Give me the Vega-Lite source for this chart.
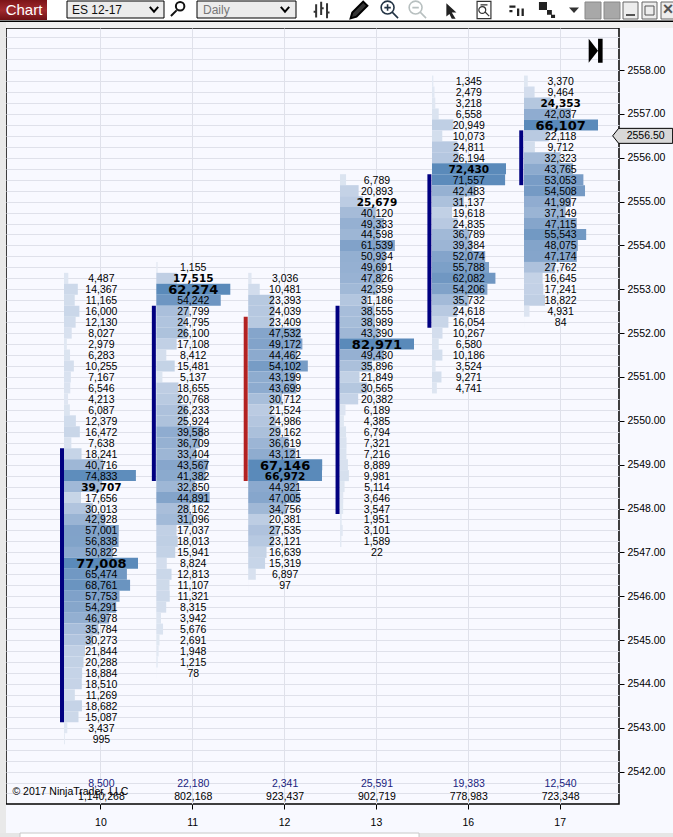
{
  "$schema": "https://vega.github.io/schema/vega-lite/v6.json",
  "autosize": {"type": "none"},
  "padding": {"left": 6, "top": 28, "right": 54, "bottom": 33},
  "width": 613,
  "height": 776,
  "background": "#f8f9ff",
  "config": {"view": {"stroke": "#000", "strokeWidth": 1.5}, "text": {"font": "Liberation Sans"}},
  "datasets": {
    "sessions": [
      {"day": 10, "open": 2549.375, "close": 2543.125, "dir": "up", "delta": 8500, "total": 1140268},
      {"day": 11, "open": 2552.625, "close": 2548.625, "dir": "up", "delta": 22180, "total": 802168},
      {"day": 12, "open": 2552.375, "close": 2548.625, "dir": "down", "delta": 2341, "total": 923437},
      {"day": 13, "open": 2552.625, "close": 2547.875, "dir": "up", "delta": 25591, "total": 902719},
      {"day": 16, "open": 2555.625, "close": 2552.125, "dir": "up", "delta": 19383, "total": 778983},
      {"day": 17, "open": 2556.625, "close": 2555.375, "dir": "up", "delta": 12540, "total": 723348}
    ],
    "rows": [
      {"day":10,"price":2553.25,"volume":4487},{"day":10,"price":2553,"volume":14367},{"day":10,"price":2552.75,"volume":11165},{"day":10,"price":2552.5,"volume":16000},{"day":10,"price":2552.25,"volume":12130},{"day":10,"price":2552,"volume":8027},{"day":10,"price":2551.75,"volume":2979},{"day":10,"price":2551.5,"volume":6283},{"day":10,"price":2551.25,"volume":10255},{"day":10,"price":2551,"volume":7167},{"day":10,"price":2550.75,"volume":6546},{"day":10,"price":2550.5,"volume":4213},{"day":10,"price":2550.25,"volume":6087},{"day":10,"price":2550,"volume":12379},{"day":10,"price":2549.75,"volume":16472},{"day":10,"price":2549.5,"volume":7638},{"day":10,"price":2549.25,"volume":18241},{"day":10,"price":2549,"volume":40716},{"day":10,"price":2548.75,"volume":74833},{"day":10,"price":2548.5,"volume":39707,"tier":"b"},{"day":10,"price":2548.25,"volume":17656},{"day":10,"price":2548,"volume":30013},{"day":10,"price":2547.75,"volume":42928},{"day":10,"price":2547.5,"volume":57001},{"day":10,"price":2547.25,"volume":56838},{"day":10,"price":2547,"volume":50822},{"day":10,"price":2546.75,"volume":77008,"tier":"m"},{"day":10,"price":2546.5,"volume":65474},{"day":10,"price":2546.25,"volume":68761},{"day":10,"price":2546,"volume":57753},{"day":10,"price":2545.75,"volume":54291},{"day":10,"price":2545.5,"volume":46978},{"day":10,"price":2545.25,"volume":35784},{"day":10,"price":2545,"volume":30273},{"day":10,"price":2544.75,"volume":21844},{"day":10,"price":2544.5,"volume":20288},{"day":10,"price":2544.25,"volume":18884},{"day":10,"price":2544,"volume":18510},{"day":10,"price":2543.75,"volume":11269},{"day":10,"price":2543.5,"volume":18682},{"day":10,"price":2543.25,"volume":15087},{"day":10,"price":2543,"volume":3437},{"day":10,"price":2542.75,"volume":995},
      {"day":11,"price":2553.5,"volume":1155},{"day":11,"price":2553.25,"volume":17515,"tier":"b"},{"day":11,"price":2553,"volume":62274,"tier":"m"},{"day":11,"price":2552.75,"volume":54242},{"day":11,"price":2552.5,"volume":27799},{"day":11,"price":2552.25,"volume":24795},{"day":11,"price":2552,"volume":26100},{"day":11,"price":2551.75,"volume":17108},{"day":11,"price":2551.5,"volume":8412},{"day":11,"price":2551.25,"volume":15481},{"day":11,"price":2551,"volume":5137},{"day":11,"price":2550.75,"volume":18655},{"day":11,"price":2550.5,"volume":20768},{"day":11,"price":2550.25,"volume":26233},{"day":11,"price":2550,"volume":25924},{"day":11,"price":2549.75,"volume":39588},{"day":11,"price":2549.5,"volume":36709},{"day":11,"price":2549.25,"volume":33404},{"day":11,"price":2549,"volume":43567},{"day":11,"price":2548.75,"volume":41382},{"day":11,"price":2548.5,"volume":32850},{"day":11,"price":2548.25,"volume":44891},{"day":11,"price":2548,"volume":28162},{"day":11,"price":2547.75,"volume":31096},{"day":11,"price":2547.5,"volume":17037},{"day":11,"price":2547.25,"volume":18013},{"day":11,"price":2547,"volume":15941},{"day":11,"price":2546.75,"volume":8824},{"day":11,"price":2546.5,"volume":12813},{"day":11,"price":2546.25,"volume":11107},{"day":11,"price":2546,"volume":11321},{"day":11,"price":2545.75,"volume":8315},{"day":11,"price":2545.5,"volume":3942},{"day":11,"price":2545.25,"volume":5676},{"day":11,"price":2545,"volume":2691},{"day":11,"price":2544.75,"volume":1948},{"day":11,"price":2544.5,"volume":1215},{"day":11,"price":2544.25,"volume":78},
      {"day":12,"price":2553.25,"volume":3036},{"day":12,"price":2553,"volume":10481},{"day":12,"price":2552.75,"volume":23393},{"day":12,"price":2552.5,"volume":24039},{"day":12,"price":2552.25,"volume":23409},{"day":12,"price":2552,"volume":47532},{"day":12,"price":2551.75,"volume":49172},{"day":12,"price":2551.5,"volume":44462},{"day":12,"price":2551.25,"volume":54102},{"day":12,"price":2551,"volume":43199},{"day":12,"price":2550.75,"volume":43699},{"day":12,"price":2550.5,"volume":30712},{"day":12,"price":2550.25,"volume":21524},{"day":12,"price":2550,"volume":24986},{"day":12,"price":2549.75,"volume":29162},{"day":12,"price":2549.5,"volume":36619},{"day":12,"price":2549.25,"volume":43121},{"day":12,"price":2549,"volume":67146,"tier":"m"},{"day":12,"price":2548.75,"volume":66972,"tier":"b"},{"day":12,"price":2548.5,"volume":44921},{"day":12,"price":2548.25,"volume":47005},{"day":12,"price":2548,"volume":34756},{"day":12,"price":2547.75,"volume":20381},{"day":12,"price":2547.5,"volume":27535},{"day":12,"price":2547.25,"volume":23121},{"day":12,"price":2547,"volume":16639},{"day":12,"price":2546.75,"volume":15319},{"day":12,"price":2546.5,"volume":6897},{"day":12,"price":2546.25,"volume":97},
      {"day":13,"price":2555.5,"volume":6789},{"day":13,"price":2555.25,"volume":20893},{"day":13,"price":2555,"volume":25679,"tier":"b"},{"day":13,"price":2554.75,"volume":40120},{"day":13,"price":2554.5,"volume":49333},{"day":13,"price":2554.25,"volume":44598},{"day":13,"price":2554,"volume":61539},{"day":13,"price":2553.75,"volume":50934},{"day":13,"price":2553.5,"volume":49691},{"day":13,"price":2553.25,"volume":47826},{"day":13,"price":2553,"volume":42359},{"day":13,"price":2552.75,"volume":31186},{"day":13,"price":2552.5,"volume":38555},{"day":13,"price":2552.25,"volume":38989},{"day":13,"price":2552,"volume":43390},{"day":13,"price":2551.75,"volume":82971,"tier":"m"},{"day":13,"price":2551.5,"volume":49430},{"day":13,"price":2551.25,"volume":35896},{"day":13,"price":2551,"volume":21849},{"day":13,"price":2550.75,"volume":30565},{"day":13,"price":2550.5,"volume":20382},{"day":13,"price":2550.25,"volume":6189},{"day":13,"price":2550,"volume":4385},{"day":13,"price":2549.75,"volume":6794},{"day":13,"price":2549.5,"volume":7321},{"day":13,"price":2549.25,"volume":7216},{"day":13,"price":2549,"volume":8889},{"day":13,"price":2548.75,"volume":9981},{"day":13,"price":2548.5,"volume":5114},{"day":13,"price":2548.25,"volume":3646},{"day":13,"price":2548,"volume":3547},{"day":13,"price":2547.75,"volume":1951},{"day":13,"price":2547.5,"volume":3101},{"day":13,"price":2547.25,"volume":1589},{"day":13,"price":2547,"volume":22},
      {"day":16,"price":2557.75,"volume":1345},{"day":16,"price":2557.5,"volume":2479},{"day":16,"price":2557.25,"volume":3218},{"day":16,"price":2557,"volume":6558},{"day":16,"price":2556.75,"volume":20949},{"day":16,"price":2556.5,"volume":10073},{"day":16,"price":2556.25,"volume":24811},{"day":16,"price":2556,"volume":26194},{"day":16,"price":2555.75,"volume":72430,"tier":"b"},{"day":16,"price":2555.5,"volume":71557},{"day":16,"price":2555.25,"volume":42483},{"day":16,"price":2555,"volume":31137},{"day":16,"price":2554.75,"volume":19618},{"day":16,"price":2554.5,"volume":24835},{"day":16,"price":2554.25,"volume":36789},{"day":16,"price":2554,"volume":39384},{"day":16,"price":2553.75,"volume":52074},{"day":16,"price":2553.5,"volume":55788},{"day":16,"price":2553.25,"volume":62082},{"day":16,"price":2553,"volume":54206},{"day":16,"price":2552.75,"volume":35732},{"day":16,"price":2552.5,"volume":24618},{"day":16,"price":2552.25,"volume":16054},{"day":16,"price":2552,"volume":10267},{"day":16,"price":2551.75,"volume":6580},{"day":16,"price":2551.5,"volume":10186},{"day":16,"price":2551.25,"volume":3524},{"day":16,"price":2551,"volume":9271},{"day":16,"price":2550.75,"volume":4741},
      {"day":17,"price":2557.75,"volume":3370},{"day":17,"price":2557.5,"volume":9464},{"day":17,"price":2557.25,"volume":24353,"tier":"b"},{"day":17,"price":2557,"volume":42037},{"day":17,"price":2556.75,"volume":66107,"tier":"m"},{"day":17,"price":2556.5,"volume":22118},{"day":17,"price":2556.25,"volume":9712},{"day":17,"price":2556,"volume":32323},{"day":17,"price":2555.75,"volume":43765},{"day":17,"price":2555.5,"volume":53053},{"day":17,"price":2555.25,"volume":54508},{"day":17,"price":2555,"volume":41997},{"day":17,"price":2554.75,"volume":37149},{"day":17,"price":2554.5,"volume":47115},{"day":17,"price":2554.25,"volume":55543},{"day":17,"price":2554,"volume":48075},{"day":17,"price":2553.75,"volume":47174},{"day":17,"price":2553.5,"volume":27762},{"day":17,"price":2553.25,"volume":16645},{"day":17,"price":2553,"volume":17241},{"day":17,"price":2552.75,"volume":18822},{"day":17,"price":2552.5,"volume":4931},{"day":17,"price":2552.25,"volume":84}
    ]
  },
  "layer": [
    {
      "data": {"values": [{}]},
      "encoding": {
        "x": {"datum": 0, "scale": {"domain": [6, 619]}, "axis": null},
        "y": {"datum": 0, "scale": {"domain": [804, 28]}, "axis": null}
      },
      "layer": [
        {"mark": {"type": "rect", "fill": "#ffffff"}, "encoding": {"x": {"datum": 0}, "x2": {"datum": 673}, "y": {"datum": 0}, "y2": {"datum": 21}}},
        {"mark": {"type": "rect", "fill": "#f0f0f0"}, "encoding": {"x": {"datum": 0}, "x2": {"datum": 673}, "y": {"datum": 21}, "y2": {"datum": 28}}},
        {"mark": {"type": "rect", "fill": "#e9e9e9"}, "encoding": {"x": {"datum": 0}, "x2": {"datum": 6}, "y": {"datum": 21}, "y2": {"datum": 837}}},
        {"mark": {"type": "rect", "fill": "#e6e6e6"}, "encoding": {"x": {"datum": 0}, "x2": {"datum": 673}, "y": {"datum": 833}, "y2": {"datum": 837}}},
        {"mark": {"type": "rect", "fill": "#ffffff", "stroke": "#c8c8c8"}, "encoding": {"x": {"datum": 20}, "x2": {"datum": 419}, "y": {"datum": 833}, "y2": {"datum": 838}}},
        {"mark": {"type": "rect", "fill": "#000000"}, "encoding": {"x": {"datum": 0}, "x2": {"datum": 673}, "y": {"datum": 20.5}, "y2": {"datum": 22}}},
        {"mark": {"type": "rect", "fill": {"x1": 0, "y1": 0, "x2": 0, "y2": 1, "gradient": "linear", "stops": [{"offset": 0, "color": "#7c1418"}, {"offset": 0.5, "color": "#a02a2e"}, {"offset": 1, "color": "#6e1014"}]}}, "encoding": {"x": {"datum": 0}, "x2": {"datum": 47}, "y": {"datum": 0}, "y2": {"datum": 20}}},
        {"mark": {"type": "text", "text": "Chart", "color": "#ffffff", "fontSize": 15, "align": "center"}, "encoding": {"x": {"datum": 24}, "y": {"datum": 10}}},
        {"mark": {"type": "rect", "fill": "#ececec", "stroke": "#000000"}, "encoding": {"x": {"datum": 67}, "x2": {"datum": 164}, "y": {"datum": 1}, "y2": {"datum": 18}}},
        {"mark": {"type": "text", "text": "ES 12-17", "color": "#111111", "fontSize": 12, "align": "left"}, "encoding": {"x": {"datum": 72}, "y": {"datum": 10}}},
        {"mark": {"type": "rect", "fill": "#ececec", "stroke": "#000000"}, "encoding": {"x": {"datum": 197}, "x2": {"datum": 296}, "y": {"datum": 1}, "y2": {"datum": 18}}},
        {"mark": {"type": "text", "text": "Daily", "color": "#777777", "fontSize": 12, "align": "left"}, "encoding": {"x": {"datum": 203}, "y": {"datum": 10}}},
        {"mark": {"type": "point", "shape": "M-0.8,-0.4 L0,0.5 L0.8,-0.4", "size": 110, "stroke": "#000000", "strokeWidth": 2, "filled": false, "opacity": 1}, "encoding": {"x": {"datum": 154}, "y": {"datum": 9}}},
        {"mark": {"type": "point", "shape": "M-0.8,-0.4 L0,0.5 L0.8,-0.4", "size": 110, "stroke": "#000000", "strokeWidth": 2, "filled": false, "opacity": 1}, "encoding": {"x": {"datum": 285}, "y": {"datum": 9}}},
        {"mark": {"type": "point", "shape": "M-1,1 L-0.2,0.2 M0.9,-0.4 A0.6,0.6 0 1,1 -0.3,-0.4 A0.6,0.6 0 1,1 0.9,-0.4", "size": 200, "stroke": "#111111", "strokeWidth": 2, "filled": false, "opacity": 1}, "encoding": {"x": {"datum": 178}, "y": {"datum": 9}}},
        {"mark": {"type": "point", "shape": "M-0.7,-0.7 V0.9 M-0.1,-1 V0.6 M0.6,-0.8 V1 M-1,0.2 H-0.7 M-0.1,-0.2 H0.2 M0.6,0.3 H0.9", "size": 280, "stroke": "#333333", "strokeWidth": 2, "filled": false, "opacity": 1}, "encoding": {"x": {"datum": 322}, "y": {"datum": 10}}},
        {"mark": {"type": "point", "shape": "M-1,1 L-0.8,0.3 L0.5,-1 L1,-0.5 L-0.3,0.8 Z", "size": 280, "fill": "#333333", "stroke": "#000000", "filled": true, "opacity": 1}, "encoding": {"x": {"datum": 359}, "y": {"datum": 10}}},
        {"mark": {"type": "point", "shape": "M1,1 L0.3,0.3 M0.5,-0.3 A0.8,0.8 0 1,1 -1.1,-0.3 A0.8,0.8 0 1,1 0.5,-0.3 M-0.7,-0.3 H0.1 M-0.3,-0.7 V0.1", "size": 260, "stroke": "#223344", "strokeWidth": 1.6, "filled": false, "opacity": 1}, "encoding": {"x": {"datum": 390}, "y": {"datum": 10}}},
        {"mark": {"type": "point", "shape": "M1,1 L0.3,0.3 M0.5,-0.3 A0.8,0.8 0 1,1 -1.1,-0.3 A0.8,0.8 0 1,1 0.5,-0.3 M-0.7,-0.3 H0.1", "size": 260, "stroke": "#b8c0c0", "strokeWidth": 1.6, "filled": false, "opacity": 1}, "encoding": {"x": {"datum": 418}, "y": {"datum": 10}}},
        {"mark": {"type": "point", "shape": "M-0.6,-1 L0.7,0.2 L0.1,0.2 L0.6,1 L0.1,1 L-0.2,0.4 L-0.6,0.7 Z", "size": 240, "fill": "#222222", "filled": true, "opacity": 1}, "encoding": {"x": {"datum": 451}, "y": {"datum": 11}}},
        {"mark": {"type": "point", "shape": "M-0.8,-1 H0.8 V1 H-0.8 Z M-0.4,-0.6 H0.4 M0.6,0.7 L0.1,0.2 M0.2,0 A0.4,0.4 0 1,1 -0.6,0 A0.4,0.4 0 1,1 0.2,0", "size": 300, "stroke": "#333333", "strokeWidth": 1.2, "filled": false, "opacity": 1}, "encoding": {"x": {"datum": 484}, "y": {"datum": 10}}},
        {"mark": {"type": "point", "shape": "M-1,-0.6 H-0.2 V-0.3 H-1 Z M-1,0 H-0.6 V0.3 H-1 Z M0,-0.2 H0.3 V0.8 H0 Z M0.6,-0.2 H0.9 V0.8 H0.6 Z", "size": 230, "fill": "#222222", "filled": true, "opacity": 1}, "encoding": {"x": {"datum": 517}, "y": {"datum": 10}}},
        {"mark": {"type": "point", "shape": "M-1,-1 H0 V0 H-1 Z M0,0 H0.6 V0.6 H0 Z M0.5,0.6 H1 V1 H0.5 Z", "size": 260, "fill": "#222222", "filled": true, "opacity": 1}, "encoding": {"x": {"datum": 547}, "y": {"datum": 10}}},
        {"mark": {"type": "point", "shape": "M-1,-0.5 H1 L0,0.6 Z", "size": 100, "fill": "#333333", "filled": true, "opacity": 1}, "encoding": {"x": {"datum": 574}, "y": {"datum": 10}}},
        {"mark": {"type": "rect", "fill": "#a8a8a8", "stroke": "#888888"}, "encoding": {"x": {"datum": 585}, "x2": {"datum": 601}, "y": {"datum": 2}, "y2": {"datum": 19}}},
        {"mark": {"type": "rect", "fill": "#a8a8a8", "stroke": "#888888"}, "encoding": {"x": {"datum": 604}, "x2": {"datum": 620}, "y": {"datum": 2}, "y2": {"datum": 19}}},
        {"mark": {"type": "rect", "fill": "#ededed", "stroke": "#666666"}, "encoding": {"x": {"datum": 623}, "x2": {"datum": 638}, "y": {"datum": 2}, "y2": {"datum": 19}}},
        {"mark": {"type": "rect", "fill": "#ededed", "stroke": "#666666"}, "encoding": {"x": {"datum": 642}, "x2": {"datum": 657}, "y": {"datum": 2}, "y2": {"datum": 19}}},
        {"mark": {"type": "rect", "fill": "#ededed", "stroke": "#666666"}, "encoding": {"x": {"datum": 661}, "x2": {"datum": 676}, "y": {"datum": 2}, "y2": {"datum": 19}}},
        {"mark": {"type": "rect", "fill": "#555555"}, "encoding": {"x": {"datum": 626}, "x2": {"datum": 635}, "y": {"datum": 14}, "y2": {"datum": 16}}},
        {"mark": {"type": "rect", "fill": "#ededed", "stroke": "#555555"}, "encoding": {"x": {"datum": 645}, "x2": {"datum": 654}, "y": {"datum": 6}, "y2": {"datum": 15}}},
        {"mark": {"type": "text", "text": "×", "color": "#555555", "fontSize": 18, "fontWeight": "bold", "align": "center"}, "encoding": {"x": {"datum": 668}, "y": {"datum": 10}}}
      ]
    },
    {
      "data": {"name": "sessions"},
      "mark": {"type": "rule", "opacity": 0},
      "encoding": {
        "x": {
          "field": "day", "type": "ordinal",
          "scale": {"type": "point", "domain": [10, 11, 12, 13, 16, 17], "padding": 0.837, "align": 0.614},
          "axis": {"title": null, "orient": "bottom", "grid": true, "gridColor": "#dfe1ea", "gridWidth": 1, "domain": false, "tickColor": "#000", "tickSize": 5, "labelAngle": 0, "labelPadding": 8, "labelFont": "Liberation Sans", "labelFontSize": 10.5, "labelColor": "#000"}
        }
      }
    },
    {
      "resolve": {"scale": {"x": "independent", "color": "independent"}},
      "layer": [
        {
          "data": {"name": "rows"},
          "transform": [{"filter": "datum.day == 10"}],
          "mark": {"type": "bar", "orient": "horizontal", "size": 11},
          "encoding": {
            "x": {"field": "volume", "type": "quantitative", "stack": null, "scale": {"domain": [-60358, 577562]}, "axis": null},
            "y": {"field": "price", "type": "quantitative", "scale": {"domain": [2541.26, 2558.96], "padding": 0, "nice": false}, "axis": null},
            "color": {"field": "volume", "type": "quantitative", "scale": {"domain": [0, 77008], "range": ["#e6ecf5", "#5a8aba"]}, "legend": null}
          }
        },
        {
          "data": {"name": "rows"},
          "transform": [{"filter": "datum.day == 11"}],
          "mark": {"type": "bar", "orient": "horizontal", "size": 11},
          "encoding": {
            "x": {"field": "volume", "type": "quantitative", "stack": null, "scale": {"domain": [-126483, 389380]}, "axis": null},
            "y": {"field": "price", "type": "quantitative", "scale": {"domain": [2541.26, 2558.96], "padding": 0, "nice": false}, "axis": null},
            "color": {"field": "volume", "type": "quantitative", "scale": {"domain": [0, 62274], "range": ["#e6ecf5", "#5a8aba"]}, "legend": null}
          }
        },
        {
          "data": {"name": "rows"},
          "transform": [{"filter": "datum.day == 12"}],
          "mark": {"type": "bar", "orient": "horizontal", "size": 11},
          "encoding": {
            "x": {"field": "volume", "type": "quantitative", "stack": null, "scale": {"domain": [-219767, 336456]}, "axis": null},
            "y": {"field": "price", "type": "quantitative", "scale": {"domain": [2541.26, 2558.96], "padding": 0, "nice": false}, "axis": null},
            "color": {"field": "volume", "type": "quantitative", "scale": {"domain": [0, 67146], "range": ["#e6ecf5", "#5a8aba"]}, "legend": null}
          }
        },
        {
          "data": {"name": "rows"},
          "transform": [{"filter": "datum.day == 13"}],
          "mark": {"type": "bar", "orient": "horizontal", "size": 11},
          "encoding": {
            "x": {"field": "volume", "type": "quantitative", "stack": null, "scale": {"domain": [-374491, 312823]}, "axis": null},
            "y": {"field": "price", "type": "quantitative", "scale": {"domain": [2541.26, 2558.96], "padding": 0, "nice": false}, "axis": null},
            "color": {"field": "volume", "type": "quantitative", "scale": {"domain": [0, 82971], "range": ["#e6ecf5", "#5a8aba"]}, "legend": null}
          }
        },
        {
          "data": {"name": "rows"},
          "transform": [{"filter": "datum.day == 16"}],
          "mark": {"type": "bar", "orient": "horizontal", "size": 11},
          "encoding": {
            "x": {"field": "volume", "type": "quantitative", "stack": null, "scale": {"domain": [-416960, 183032]}, "axis": null},
            "y": {"field": "price", "type": "quantitative", "scale": {"domain": [2541.26, 2558.96], "padding": 0, "nice": false}, "axis": null},
            "color": {"field": "volume", "type": "quantitative", "scale": {"domain": [0, 72430], "range": ["#e6ecf5", "#5a8aba"]}, "legend": null}
          }
        },
        {
          "data": {"name": "rows"},
          "transform": [{"filter": "datum.day == 17"}],
          "mark": {"type": "bar", "orient": "horizontal", "size": 11},
          "encoding": {
            "x": {"field": "volume", "type": "quantitative", "stack": null, "scale": {"domain": [-462750, 84867]}, "axis": null},
            "y": {"field": "price", "type": "quantitative", "scale": {"domain": [2541.26, 2558.96], "padding": 0, "nice": false}, "axis": null},
            "color": {"field": "volume", "type": "quantitative", "scale": {"domain": [0, 66107], "range": ["#e6ecf5", "#5a8aba"]}, "legend": null}
          }
        },
        {
          "layer": [
            {
              "data": {"name": "sessions"},
              "mark": {"type": "rule", "strokeWidth": 4, "xOffset": -38.4},
              "encoding": {
                "x": {
                  "field": "day", "type": "ordinal",
                  "scale": {"type": "point", "domain": [10, 11, 12, 13, 16, 17], "padding": 0.837, "align": 0.614},
                  "axis": null
                },
                "y": {
                  "field": "open", "type": "quantitative",
                  "scale": {"domain": [2541.26, 2558.96], "padding": 0, "nice": false},
                  "axis": {"orient": "left", "title": null, "grid": true, "gridColor": "#dfe1ea", "gridWidth": 1, "ticks": false, "labels": false, "domain": false, "values": [2541.5,2541.75,2542,2542.25,2542.5,2542.75,2543,2543.25,2543.5,2543.75,2544,2544.25,2544.5,2544.75,2545,2545.25,2545.5,2545.75,2546,2546.25,2546.5,2546.75,2547,2547.25,2547.5,2547.75,2548,2548.25,2548.5,2548.75,2549,2549.25,2549.5,2549.75,2550,2550.25,2550.5,2550.75,2551,2551.25,2551.5,2551.75,2552,2552.25,2552.5,2552.75,2553,2553.25,2553.5,2553.75,2554,2554.25,2554.5,2554.75,2555,2555.25,2555.5,2555.75,2556,2556.25,2556.5,2556.75,2557,2557.25,2557.5,2557.75,2558,2558.25,2558.5,2558.75]}
                },
                "y2": {"field": "close"},
                "color": {"field": "dir", "type": "nominal", "scale": {"domain": ["up", "down"], "range": ["#000080", "#b22222"]}, "legend": null}
              }
            },
            {
              "data": {"name": "rows"},
              "transform": [{"filter": "!datum.tier"}],
              "mark": {"type": "text", "fontSize": 10.5, "color": "#000", "dx": 1, "dy": 1, "font": "Liberation Sans"},
              "encoding": {
                "text": {"field": "volume", "type": "quantitative", "format": ",d"},
                "x": {"field": "day", "type": "ordinal", "axis": null},
                "y": {
                  "field": "price", "type": "quantitative",
                  "scale": {"domain": [2541.26, 2558.96], "padding": 0, "nice": false},
                  "axis": {"orient": "right", "title": null, "grid": false, "domain": false, "tickColor": "#000", "tickSize": 5, "format": ".2f", "labelFont": "Liberation Sans", "labelFontSize": 10.5, "labelColor": "#000", "labelPadding": 3, "values": [2542,2543,2544,2545,2546,2547,2548,2549,2550,2551,2552,2553,2554,2555,2556,2557,2558]}
                }
              }
            },
            {
              "data": {"name": "rows"},
              "transform": [{"filter": "datum.tier == 'b'"}],
              "mark": {"type": "text", "fontSize": 10.5, "fontWeight": "bold", "color": "#000", "dx": 1, "dy": 1, "font": "DejaVu Sans"},
              "encoding": {"text": {"field": "volume", "type": "quantitative", "format": ",d"}, "x": {"field": "day", "type": "ordinal", "axis": null}, "y": {"field": "price", "type": "quantitative", "scale": {"domain": [2541.26, 2558.96], "padding": 0, "nice": false}, "axis": null}}
            },
            {
              "data": {"name": "rows"},
              "transform": [{"filter": "datum.tier == 'm'"}],
              "mark": {"type": "text", "fontSize": 13, "fontWeight": "bold", "color": "#000", "dx": 1, "dy": 1, "font": "DejaVu Sans"},
              "encoding": {"text": {"field": "volume", "type": "quantitative", "format": ",d"}, "x": {"field": "day", "type": "ordinal", "axis": null}, "y": {"field": "price", "type": "quantitative", "scale": {"domain": [2541.26, 2558.96], "padding": 0, "nice": false}, "axis": null}}
            },
            {
              "data": {"name": "sessions"},
              "mark": {"type": "text", "fontSize": 10.5, "color": "#1a237e", "dx": 1, "dy": 1, "font": "Liberation Sans"},
              "encoding": {"text": {"field": "delta", "type": "quantitative", "format": ",d"}, "x": {"field": "day", "type": "ordinal", "axis": null}, "y": {"datum": 2541.74, "type": "quantitative", "scale": {"domain": [2541.26, 2558.96], "padding": 0, "nice": false}, "axis": null}}
            },
            {
              "data": {"name": "sessions"},
              "mark": {"type": "text", "fontSize": 10.5, "color": "#000", "dx": 1, "dy": 1, "font": "Liberation Sans"},
              "encoding": {"text": {"field": "total", "type": "quantitative", "format": ",d"}, "x": {"field": "day", "type": "ordinal", "axis": null}, "y": {"datum": 2541.44, "type": "quantitative", "scale": {"domain": [2541.26, 2558.96], "padding": 0, "nice": false}, "axis": null}}
            },
            {
              "data": {"values": [{}]},
              "mark": {"type": "text", "text": "© 2017 NinjaTrader, LLC", "fontSize": 10.5, "color": "#000", "align": "left", "dx": -88, "dy": 1, "font": "Liberation Sans"},
              "encoding": {"x": {"datum": 10, "type": "ordinal", "axis": null}, "y": {"datum": 2541.55, "type": "quantitative", "scale": {"domain": [2541.26, 2558.96], "padding": 0, "nice": false}, "axis": null}}
            },
            {
              "data": {"values": [{}]},
              "mark": {"type": "point", "shape": "M-0.58,-1 L0.2,0 L-0.58,1 Z M0.2,-1 H0.58 V1 H0.2 Z", "size": 576, "fill": "#000", "filled": true, "opacity": 1, "xOffset": 36},
              "encoding": {"x": {"datum": 17, "type": "ordinal", "axis": null}, "y": {"datum": 2558.44, "type": "quantitative", "scale": {"domain": [2541.26, 2558.96], "padding": 0, "nice": false}, "axis": null}}
            },
            {
              "data": {"values": [{}]},
              "mark": {"type": "point", "shape": "M-1,0 L-0.8,-0.25 L1,-0.25 L1,0.25 L-0.8,0.25 Z", "size": 3600, "fill": "#d8d8d8", "stroke": "#000", "strokeWidth": 1, "filled": true, "opacity": 1, "xOffset": 83},
              "encoding": {"x": {"datum": 17, "type": "ordinal", "axis": null}, "y": {"datum": 2556.5, "type": "quantitative", "scale": {"domain": [2541.26, 2558.96], "padding": 0, "nice": false}, "axis": null}}
            },
            {
              "data": {"values": [{}]},
              "mark": {"type": "text", "text": "2556.50", "fontSize": 10.5, "color": "#000", "align": "left", "dx": 67, "font": "Liberation Sans"},
              "encoding": {"x": {"datum": 17, "type": "ordinal", "axis": null}, "y": {"datum": 2556.5, "type": "quantitative", "scale": {"domain": [2541.26, 2558.96], "padding": 0, "nice": false}, "axis": null}}
            }
          ]
        }
      ]
    }
  ],
  "resolve": {"scale": {"x": "independent", "y": "independent"}, "axis": {"x": "independent", "y": "independent"}}
}
